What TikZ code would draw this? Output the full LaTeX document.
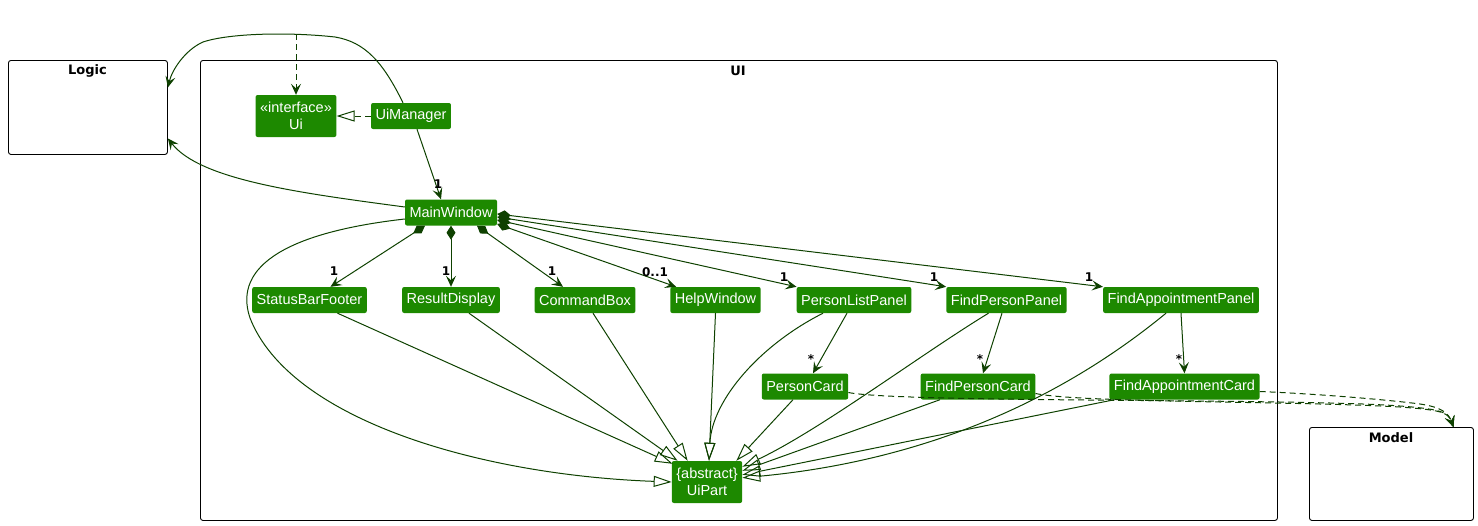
\documentclass[tikz,border=0pt]{standalone}
\usepackage{fontspec}
\setmainfont{Liberation Sans}
\newfontfamily\pkgfont{DejaVu Sans}
\usetikzlibrary{arrows.meta,calc}
\definecolor{uifill}{HTML}{1D8900}
\definecolor{uiline}{HTML}{0E4100}
\tikzset{
  cls/.style={fill=uifill, text=white, rounded corners=2pt, font=\fontsize{14.5}{17}\selectfont, inner xsep=4.5pt, inner ysep=0pt, minimum height=26pt, align=center},
  cls2/.style={cls, minimum height=42pt},
  pkg/.style={draw=black, line width=0.9pt, rounded corners=2.5pt, inner sep=0pt, anchor=north west},
  pkgtitle/.style={font=\pkgfont\bfseries\fontsize{13}{15}\selectfont, inner sep=0pt},
  edge/.style={draw=uiline, line width=1pt},
  tipa/.tip={Stealth[length=11pt,width=10pt,inset=4.5pt]},
  assoc/.style={edge, -tipa},
  comp/.style={edge, {Diamond[length=14pt,width=9pt]}-tipa},
  inh/.style={edge, -{Triangle[open,length=18pt,width=11pt]}},
  dep/.style={edge, dash pattern=on 6pt off 4pt, -tipa},
  real/.style={edge, dash pattern=on 6pt off 4pt, -{Triangle[open,length=18pt,width=11pt]}},
  mult/.style={font=\pkgfont\bfseries\fontsize{12}{14}\selectfont, inner sep=0pt, text=black},
}
\begin{document}
\begin{tikzpicture}[x=1pt,y=-1pt]
\useasboundingbox (0,0) rectangle (1478,525);
% packages
\node[pkg, minimum width=159pt, minimum height=94pt] (logic) at (8,60) {};
\node[pkgtitle] (logict) at (87.5,71) {Logic};
\node[pkg, minimum width=1077pt, minimum height=460pt] (uipkg) at (200,60) {};
\node[pkgtitle] (uit) at (738,71) {UI};
\node[pkg, minimum width=164pt, minimum height=93pt] (model) at (1309,427) {};
\node[pkgtitle] (modelt) at (1391,438) {Model};
% classes
\node[cls2] (ui) at (296,116) {«interface»\\Ui};
\node[cls] (uim) at (411,116) {UiManager};
\node[cls] (mw) at (451,212.5) {MainWindow};
\node[cls] (sbf) at (309.5,300) {StatusBarFooter};
\node[cls] (rd) at (451,300) {ResultDisplay};
\node[cls] (cb) at (585,300) {CommandBox};
\node[cls] (hw) at (715.5,300) {HelpWindow};
\node[cls] (plp) at (854,300) {PersonListPanel};
\node[cls] (fpp) at (1006.5,300) {FindPersonPanel};
\node[cls] (fap) at (1181,300) {FindAppointmentPanel};
\node[cls] (pc) at (805,386.5) {PersonCard};
\node[cls] (fpc) at (978,386.5) {FindPersonCard};
\node[cls] (fac) at (1184.5,386.5) {FindAppointmentCard};
\node[cls2] (up) at (707,482) {\{abstract\}\\UiPart};
\coordinate (hid) at (296,34);
% edges to Logic
\draw[assoc] ([xshift=-8pt]uim.north) .. controls (383,62) and (365,42) .. (335,37) .. controls (290,32) and (230,33) .. (203,42) .. controls (185,50) and (172,70) .. ([yshift=20pt]logic.east);
\draw[assoc] ([yshift=5.5pt]mw.west) .. controls (300,193) and (200,180) .. ([yshift=-31pt]logic.east);
% Ui
\draw[real] (uim.west) -- (ui.east);
\draw[dep] (hid) -- (ui.north);
\draw[assoc] ([xshift=6pt]uim.south) -- ([xshift=-10pt]mw.north);
\node[mult] (l0) at (438,184) {1};
% compositions
\draw[comp] ([xshift=-26pt]mw.south) -- ([xshift=21pt]sbf.north);
\draw[comp] (mw.south) -- (rd.north);
\draw[comp] ([xshift=26pt]mw.south) -- ([xshift=-22pt]cb.north);
\draw[comp] ([yshift=-11.5pt]mw.east) -- ([xshift=6pt]hw.north west);
\draw[comp] ([yshift=-7.5pt]mw.east) -- (plp.north west);
\draw[comp] ([yshift=-4.5pt]mw.east) -- (fpp.north west);
\draw[comp] ([yshift=-1.5pt]mw.east) -- (fap.north west);
\node[mult] (l1) at (334,271) {1};
\node[mult] (l2) at (446,271) {1};
\node[mult] (l3) at (552,271) {1};
\node[mult] (l4) at (655,272) {0..1};
\node[mult] (l5) at (784,277) {1};
\node[mult] (l6) at (934,277) {1};
\node[mult] (l7) at (1089,277) {1};
% panels to cards
\draw[assoc] ([xshift=-7pt]plp.south) -- ([xshift=8pt]pc.north);
\draw[assoc] ([xshift=-4.5pt]fpp.south) -- ([xshift=5pt]fpc.north);
\draw[assoc] (fap.south) -- (fac.north);
\node[mult] (l8) at (811,359) {*};
\node[mult] (l9) at (980,359) {*};
\node[mult] (l10) at (1179,359) {*};
% inheritance
\draw[inh] ([yshift=-6.5pt]mw.west) .. controls (290,232) and (232,265) .. (250,318) .. controls (290,420) and (480,475) .. (up.west);
\draw[inh] ([xshift=28pt]sbf.south) -- ([xshift=1pt,yshift=-3pt]up.north west);
\draw[inh] ([xshift=18pt]rd.south) -- ([xshift=6pt]up.north west);
\draw[inh] ([xshift=8pt]cb.south) -- ([xshift=16pt]up.north west);
\draw[inh] (hw.south) -- ([xshift=2pt]up.north);
\draw[inh] ([xshift=-31pt]plp.south) .. controls (760,345) and (712,400) .. ([xshift=2pt]up.north);
\draw[inh] ([xshift=-12pt]pc.south) -- ([xshift=-6pt]up.north east);
\draw[inh] ([xshift=-18pt]fpp.south) .. controls (920,355) and (820,430) .. ([yshift=-6pt]up.north east);
\draw[inh] ([xshift=-38pt]fpc.south) -- ([yshift=-10pt]up.north east);
\draw[inh] ([xshift=-70pt]fac.south) -- ([yshift=-14pt]up.north east);
\draw[inh] ([xshift=-15pt]fap.south) .. controls (1030,425) and (880,465) .. ([yshift=-17pt]up.north east);
% dependencies to Model
\draw[dep] ([yshift=-6pt]pc.east) .. controls (900,403) and (1300,398) .. (1400,406) .. controls (1440,409) and (1448,412) .. ([xshift=62pt]model.north);
\draw[dep] ([yshift=-7pt]fpc.east) .. controls (1080,403) and (1300,401) .. (1400,407) .. controls (1440,410) and (1448,412) .. ([xshift=62pt]model.north);
\draw[dep] ([yshift=-5pt]fac.east) .. controls (1320,394) and (1390,400) .. (1420,404) .. controls (1440,407) and (1448,412) .. ([xshift=62pt]model.north);
\end{tikzpicture}
\end{document}
